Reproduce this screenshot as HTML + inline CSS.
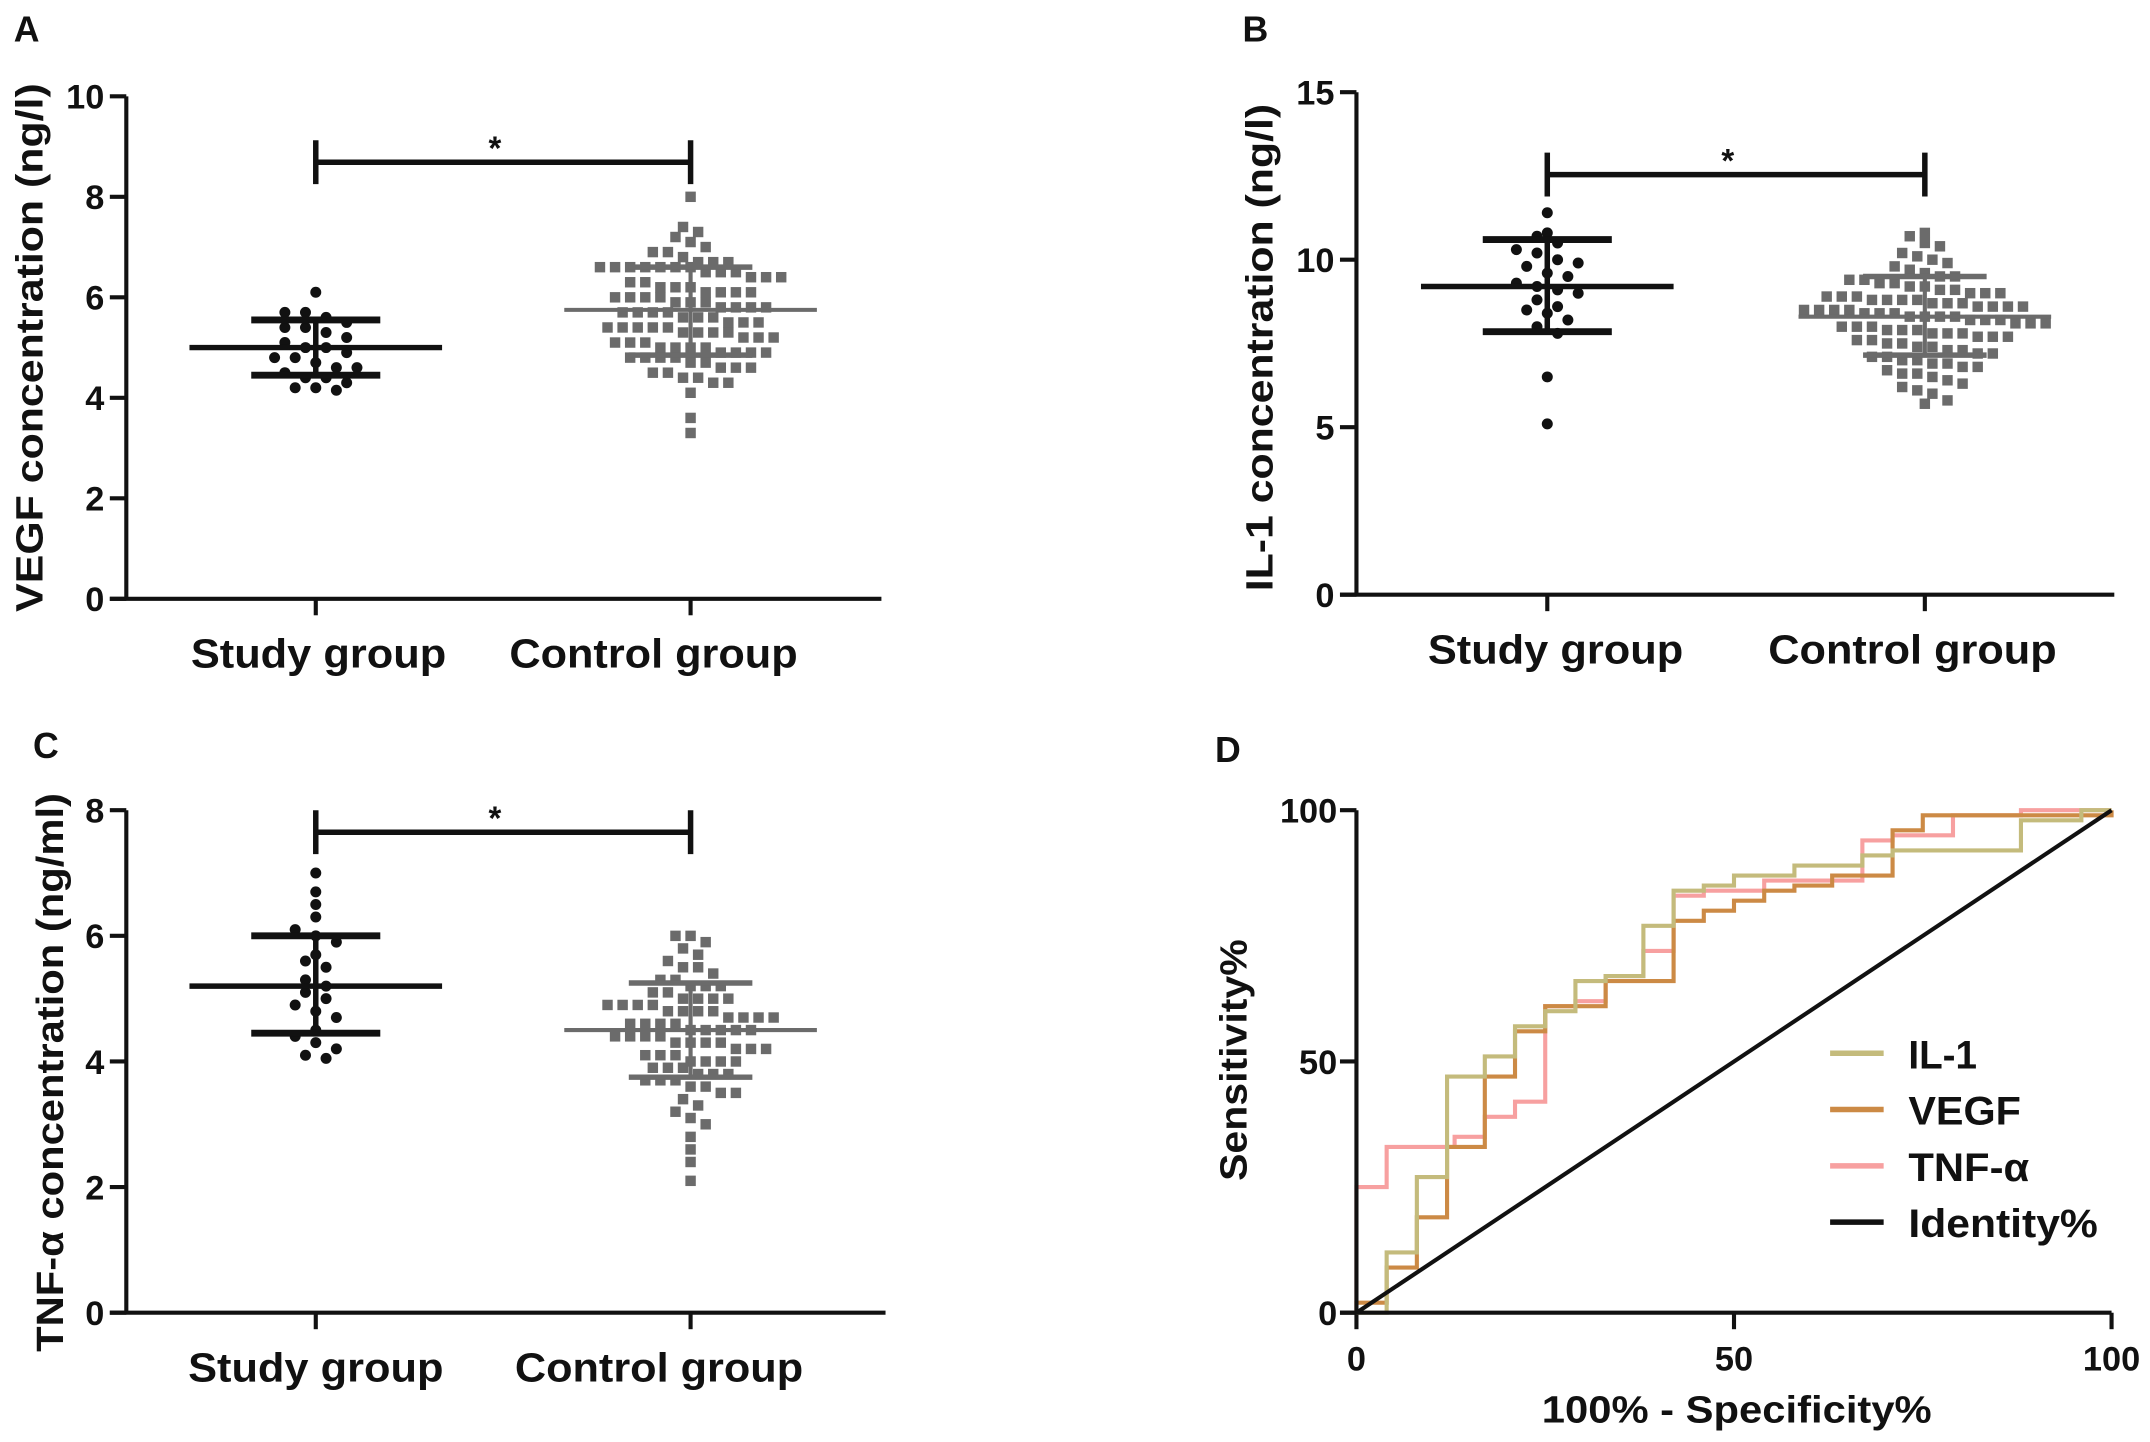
<!DOCTYPE html>
<html><head><meta charset="utf-8">
<style>
html,body{margin:0;padding:0;background:#fff;}
svg{display:block;}
text{font-family:"Liberation Sans",sans-serif;font-weight:bold;fill:#111;}
</style></head>
<body>
<svg id="fig" width="2150" height="1442" viewBox="0 0 1566 1050" xmlns="http://www.w3.org/2000/svg"></svg>
<script>
// ---------- DATA ----------
const groupLabels = ["Study group","Control group"];
const vegfStudy = [6.1,5.7,5.7,5.6,5.5,5.4,5.4,5.3,5.2,5.1,5.0,5.0,4.9,4.8,4.8,4.7,4.6,4.6,4.5,4.4,4.4,4.3,4.2,4.2,4.15];
const vegfControl = [8.0,7.4,7.3,7.2,7.1,7.0,6.9,6.9,6.8,6.7,6.7,6.7,6.6,6.6,6.6,6.6,6.6,6.6,6.6,6.5,6.5,6.5,6.4,6.4,6.4,6.3,6.3,6.2,6.2,6.2,6.1,6.1,6.1,6.1,6.0,6.0,6.0,6.0,5.9,5.9,5.9,5.8,5.8,5.8,5.8,5.7,5.7,5.7,5.7,5.6,5.6,5.6,5.5,5.5,5.5,5.4,5.4,5.4,5.4,5.4,5.3,5.3,5.3,5.3,5.2,5.2,5.2,5.1,5.1,5.1,5.0,5.0,5.0,5.0,4.9,4.9,4.9,4.9,4.8,4.8,4.8,4.8,4.7,4.7,4.6,4.6,4.6,4.5,4.5,4.4,4.4,4.3,4.3,4.1,3.6,3.3];
const vegfStats = {studyMean:5.0, studyLo:4.45, studyHi:5.55, ctrlMean:5.75, ctrlLo:4.85, ctrlHi:6.6};
const vegfTicks = [0,2,4,6,8,10];

const il1Study = [11.4,10.8,10.7,10.5,10.3,10.2,10.0,9.9,9.8,9.6,9.5,9.3,9.2,9.1,9.0,8.8,8.6,8.5,8.4,8.2,8.0,7.8,6.5,5.1];
const il1Control = [10.8,10.7,10.5,10.4,10.2,10.1,10.0,9.9,9.8,9.7,9.6,9.5,9.5,9.4,9.4,9.3,9.3,9.2,9.2,9.1,9.1,9.0,9.0,9.0,8.9,8.9,8.9,8.8,8.8,8.8,8.8,8.7,8.7,8.7,8.6,8.6,8.6,8.6,8.5,8.5,8.5,8.5,8.4,8.4,8.4,8.3,8.3,8.3,8.3,8.2,8.2,8.2,8.1,8.1,8.1,8.0,8.0,8.0,7.9,7.9,7.9,7.8,7.8,7.8,7.7,7.7,7.7,7.6,7.6,7.5,7.5,7.4,7.4,7.3,7.3,7.2,7.2,7.1,7.1,7.0,7.0,6.9,6.9,6.8,6.8,6.7,6.6,6.6,6.5,6.4,6.3,6.2,6.1,6.0,5.8,5.7];
const il1Stats = {studyMean:9.2, studyLo:7.85, studyHi:10.6, ctrlMean:8.3, ctrlLo:7.15, ctrlHi:9.5};
const il1Ticks = [0,5,10,15];

const tnfStudy = [7.0,6.7,6.5,6.3,6.1,6.0,5.9,5.7,5.6,5.5,5.3,5.2,5.1,5.0,4.9,4.8,4.7,4.5,4.4,4.3,4.2,4.1,4.05];
const tnfControl = [6.0,6.0,5.9,5.8,5.7,5.6,5.5,5.5,5.4,5.3,5.3,5.2,5.2,5.2,5.1,5.1,5.0,5.0,5.0,5.0,4.9,4.9,4.9,4.9,4.8,4.8,4.8,4.8,4.7,4.7,4.7,4.7,4.6,4.6,4.6,4.6,4.5,4.5,4.5,4.5,4.5,4.4,4.4,4.4,4.4,4.3,4.3,4.3,4.3,4.2,4.2,4.2,4.1,4.1,4.1,4.0,4.0,4.0,4.0,3.9,3.9,3.9,3.8,3.8,3.8,3.7,3.7,3.7,3.6,3.6,3.5,3.5,3.4,3.3,3.2,3.1,3.0,2.8,2.6,2.4,2.1];
const tnfStats = {studyMean:5.2, studyLo:4.45, studyHi:6.0, ctrlMean:4.5, ctrlLo:3.75, ctrlHi:5.25};
const tnfTicks = [0,2,4,6,8];

const il1RocX = [0,4,4,8,8,12,12,17,17,21,21,25,25,29,29,33,33,38,38,42,42,46,46,50,50,58,58,67,67,71,71,88,88,96,96,100];
const il1RocY = [0,0,12,12,27,27,47,47,51,51,57,57,60,60,66,66,67,67,77,77,84,84,85,85,87,87,89,89,91,91,92,92,98,98,100,100];
const vegfRocX = [0,0,4,4,8,8,12,12,17,17,21,21,25,25,33,33,42,42,46,46,50,50,54,54,58,58,63,63,71,71,75,75,100,100];
const vegfRocY = [0,2,2,9,9,19,19,33,33,47,47,56,56,61,61,66,66,78,78,80,80,82,82,84,84,85,85,87,87,96,96,99,99,100];
const tnfRocX = [0,0,4,4,13,13,17,17,21,21,25,25,29,29,33,33,38,38,42,42,46,46,54,54,67,67,71,71,79,79,88,88,100];
const tnfRocY = [0,25,25,33,33,35,35,39,39,42,42,61,61,62,62,67,67,72,72,83,83,84,84,86,86,94,94,95,95,99,99,100,100];
const rocTicks = [0,50,100];
const legendLabels = ["IL-1","VEGF","TNF-α","Identity%"];

// ---------- DRAW ----------
const NS="http://www.w3.org/2000/svg";
const svg=document.getElementById('fig');
function mk(tag,attrs,parent){const e=document.createElementNS(NS,tag);for(const k in attrs)e.setAttribute(k,attrs[k]);(parent||svg).appendChild(e);return e;}
function txt(s,x,y,size,anchor,parent,extra){const t=mk('text',Object.assign({x:x,y:y,'font-size':size,'text-anchor':anchor||'middle'},extra||{}),parent);t.textContent=s;return t;}
function fit(len){return {textLength:len,lengthAdjust:'spacingAndGlyphs'};}

function scatterPanel(cfg){
  const g=mk('g',{});
  
  
  const yS=v=>cfg.y0-(v-cfg.min)/(cfg.max-cfg.min)*(cfg.y0-cfg.y1);
  const xs=[cfg.xStudy,cfg.xCtrl];
  const ax=mk('path',{d:`M${cfg.ax} ${cfg.y1} V${cfg.y0} M${cfg.ax-12} ${cfg.y0} H${cfg.axEnd}`,stroke:'#111','stroke-width':3,fill:'none'},g);
  
  
  cfg.ticks.forEach(t=>{
    mk('line',{x1:cfg.ax-12,x2:cfg.ax,y1:yS(t),y2:yS(t),stroke:'#111','stroke-width':3},g);
    const l=txt(String(t),cfg.ax-16,yS(t)+9,25,'end',g);
    
    
  });
  xs.forEach((x,i)=>{
    mk('line',{x1:x,x2:x,y1:cfg.y0,y2:cfg.y0+12,stroke:'#111','stroke-width':3},g);
    const l=txt(groupLabels[i],cfg.labelX[i],cfg.y0+50,30,'middle',g,fit(cfg.labelW[i]));
    
    
  });
  const yt=txt(cfg.title,0,0,28,'middle',g,Object.assign({transform:`translate(${cfg.titleX},${cfg.titleY}) rotate(-90)`},fit(cfg.titleLen)));
  
  
  const pl=txt(cfg.letter,cfg.letterX,cfg.letterY,26,'start',g);
  
  
  function swarm(vals,cx,isSq,color,sp,bin){
    const bins={};
    vals.forEach(v=>{const b=Math.round(yS(v)/bin);(bins[b]=bins[b]||[]).push(v);});
    Object.keys(bins).forEach(b=>{
      const n=bins[b].length;
      bins[b].forEach((v,j)=>{
        const off=(n%2? (j-(n-1)/2) : (j-(n-1)/2))*sp;
        const y=yS(v);
        let p;
        if(isSq){p=mk('rect',{x:cx+off-3.8,y:y-3.8,width:7.6,height:7.6,fill:color},g);}
        else{p=mk('circle',{cx:cx+off,cy:y,r:4,fill:color},g);}
        
        
      });
    });
  }
  swarm(cfg.study,cfg.xStudy,false,'#111',15,11);
  swarm(cfg.ctrl,cfg.xCtrl,true,'#6b6b6b',11,11);
  const s=cfg.stats;
  function bars(cx,mean,lo,hi,color,w,mw,cw){
    const e=mk('path',{d:`M${cx-mw} ${yS(mean)} H${cx+mw} M${cx} ${yS(lo)} V${yS(hi)}`,stroke:color,'stroke-width':w-1,fill:'none'},g);
    
    
    mk('path',{d:`M${cx-cw} ${yS(lo)} H${cx+cw} M${cx-cw} ${yS(hi)} H${cx+cw}`,stroke:color,'stroke-width':w,fill:'none'},g);
  }
  bars(cfg.xStudy,s.studyMean,s.studyLo,s.studyHi,'#111',5,92,47);
  bars(cfg.xCtrl,s.ctrlMean,s.ctrlLo,s.ctrlHi,'#6b6b6b',4,92,45);
  const br=mk('path',{d:`M${cfg.xStudy} ${cfg.brY-16} V${cfg.brY+16} M${cfg.xStudy} ${cfg.brY} H${cfg.xCtrl} M${cfg.xCtrl} ${cfg.brY-16} V${cfg.brY+16}`,stroke:'#111','stroke-width':4,fill:'none'},g);
  
  
  const st=txt('*',(cfg.xStudy+cfg.xCtrl)/2-6,cfg.brY-2,24,'middle',g,{'font-weight':'normal'});
  
  
}

scatterPanel({name:'panel-a-vegf',letter:'A',letterX:10,letterY:30,title:'VEGF concentration (ng/l)',titleX:31,titleY:253,titleLen:385,
  ax:92,axEnd:642,y0:436,y1:70,min:0,max:10,ticks:vegfTicks,xStudy:230,xCtrl:503,labelX:[232,476],labelW:[186,210],
  study:vegfStudy,ctrl:vegfControl,stats:vegfStats,brY:118});
scatterPanel({name:'panel-b-il1',letter:'B',letterX:905,letterY:30,title:'IL-1 concentration (ng/l)',titleX:927,titleY:253,titleLen:355,
  ax:988,axEnd:1540,y0:433,y1:67,min:0,max:15,ticks:il1Ticks,xStudy:1127,xCtrl:1402,labelX:[1133,1393],labelW:[186,210],
  study:il1Study,ctrl:il1Control,stats:il1Stats,brY:127});
scatterPanel({name:'panel-c-tnf',letter:'C',letterX:24,letterY:552,title:'TNF-α concentration (ng/ml)',titleX:46,titleY:781,titleLen:407,
  ax:92,axEnd:645,y0:956,y1:590,min:0,max:8,ticks:tnfTicks,xStudy:230,xCtrl:503,labelX:[230,480],labelW:[186,210],
  study:tnfStudy,ctrl:tnfControl,stats:tnfStats,brY:606});

// ---------- ROC panel ----------
(function(){
  const g=mk('g',{});
  
  
  const X0=988,X1=1538,Y0=956,Y1=590;
  const xS=v=>X0+v/100*(X1-X0), yS=v=>Y0-v/100*(Y0-Y1);
  const pl=txt('D',885,555,26,'start',g);
  
  
  rocTicks.forEach(t=>{
    mk('line',{x1:X0-12,x2:X0,y1:yS(t),y2:yS(t),stroke:'#111','stroke-width':3},g);
    const a=txt(String(t),X0-14,yS(t)+9,25,'end',g);
    
    
    mk('line',{x1:xS(t),x2:xS(t),y1:Y0,y2:Y0+12,stroke:'#111','stroke-width':3},g);
    const b=txt(String(t),xS(t),Y0+42,25,'middle',g);
    
    
  });
  const series=[[il1RocX,il1RocY,'#c4bb7c','roc-il1'],[vegfRocX,vegfRocY,'#cc8a45','roc-vegf'],[tnfRocX,tnfRocY,'#f7a0a0','roc-tnf']];
  [2,1,0].forEach(i=>{
    const [xa,ya,c,n]=series[i];
    const pts=xa.map((x,k)=>xS(x)+','+yS(ya[k])).join(' ');
    const p=mk('polyline',{points:pts,fill:'none',stroke:c,'stroke-width':3},g);
    
    
  });
  const id=mk('line',{x1:xS(0),y1:yS(0),x2:xS(100),y2:yS(100),stroke:'#111','stroke-width':3},g);
  
  
  const ax=mk('path',{d:`M${X0} ${Y1} V${Y0} M${X0-12} ${Y0} H${X1}`,stroke:'#111','stroke-width':3,fill:'none'},g);
  
  
  const xt=txt('100% - Specificity%',1265,1036,28,'middle',g,fit(284));
  
  
  const yt=txt('Sensitivity%',0,0,28,'middle',g,Object.assign({transform:`translate(908,772) rotate(-90)`},fit(176)));
  
  
  const cols=['#c4bb7c','#cc8a45','#f7a0a0','#111'];
  const lw=[50,82,88,138];
  legendLabels.forEach((s,i)=>{
    const y=767+i*41;
    const le=mk('g',{},g);
    
    
    mk('line',{x1:1333,x2:1372,y1:y,y2:y,stroke:cols[i],'stroke-width':4},le);
    txt(s,1390,y+11,29,'start',le,fit(lw[i]));
  });
})();
</script>
</body></html>
